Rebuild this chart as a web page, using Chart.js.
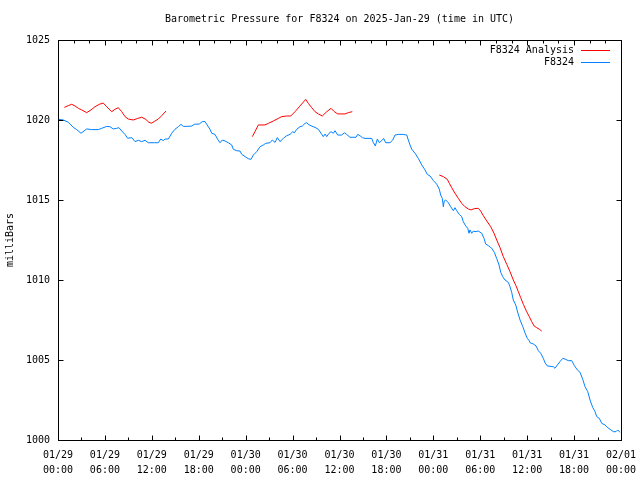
<!DOCTYPE html>
<html>
<head>
<meta charset="utf-8">
<script src="https://cdn.jsdelivr.net/npm/chart.js@4/dist/chart.umd.min.js"></script>
<style>
  body { margin: 0; background: #fff; }
  canvas { display: block; }
</style>
</head>
<body>
<canvas id="pressChart" width="640" height="480"></canvas>
<script>
// hours since 01/29 00:00 UTC
var tickDays = ['01/29', '01/30', '01/31', '02/01'];
var tickTimes = ['00:00', '06:00', '12:00', '18:00'];

var blueHours = [0.0, 0.68, 1.32, 1.96, 2.39, 2.94, 3.67, 4.31, 5.15, 5.59, 6.23, 6.65, 7.07, 7.51, 7.8, 8.15, 8.57, 8.91, 9.43, 9.85,
    10.27, 10.71, 11.13, 11.55, 12.32, 12.83, 13.14, 13.47, 13.68, 14.11, 14.54, 14.96, 15.39, 15.73, 16.03, 16.46, 17.1, 17.43, 18.07, 18.45,
    18.8, 19.02, 19.44, 19.66, 20.08, 20.42, 20.72, 21.01, 21.36, 21.78, 22.22, 22.42, 22.85, 23.28, 23.49, 23.92, 24.34, 24.68, 24.98, 25.41,
    25.83, 26.26, 26.56, 27.11, 27.41, 27.75, 28.05, 28.39, 28.81, 29.25, 29.67, 30.02, 30.22, 30.53, 30.95, 31.24, 31.59, 31.81, 32.1, 32.45,
    32.87, 33.29, 33.73, 33.93, 34.15, 34.37, 34.66, 34.92, 35.21, 35.43, 35.77, 36.28, 36.62, 36.92, 37.34, 38.11, 38.33, 38.62, 38.92, 39.26,
    40.12, 40.32, 40.58, 40.84, 41.09, 41.4, 41.65, 41.91, 42.46, 42.81, 43.1, 43.52, 44.16, 44.6, 44.8, 45.02, 45.24, 45.66, 46.08, 46.52,
    46.94, 47.23, 47.58, 48.0, 48.43, 48.76, 48.94, 49.15, 49.28, 49.4, 49.58, 49.92, 50.22, 50.56, 50.77, 50.99, 51.32, 51.63, 51.83, 52.14,
    52.4, 52.56, 52.69, 52.91, 53.11, 53.33, 53.75, 54.19, 54.48, 54.7, 55.03, 55.47, 55.8, 56.1, 56.4, 56.62, 56.87, 57.17, 57.59, 57.81,
    58.03, 58.23, 58.54, 58.74, 59.09, 59.43, 59.72, 60.02, 60.27, 60.37, 60.79, 61.13, 61.43, 61.73, 62.07, 62.28, 62.58, 63.35, 63.56, 63.86,
    64.2, 64.55, 64.84, 65.26, 65.7, 66.03, 66.42, 66.76, 67.11, 67.4, 67.75, 68.04, 68.38, 68.68, 68.9, 69.23, 69.54, 69.96, 70.25, 70.6,
    71.02, 71.36, 71.58, 71.87];
var bluePressure = [1020.05, 1020.0, 1019.86, 1019.54, 1019.4, 1019.17, 1019.44, 1019.4, 1019.4, 1019.48, 1019.6, 1019.58, 1019.44, 1019.48, 1019.52, 1019.31, 1019.1, 1018.86, 1018.9, 1018.65,
    1018.73, 1018.65, 1018.73, 1018.58, 1018.58, 1018.58, 1018.81, 1018.71, 1018.81, 1018.81, 1019.17, 1019.42, 1019.58, 1019.73, 1019.6, 1019.6, 1019.62, 1019.73, 1019.75, 1019.9,
    1019.9, 1019.73, 1019.42, 1019.17, 1019.1, 1018.79, 1018.58, 1018.75, 1018.69, 1018.58, 1018.44, 1018.17, 1018.08, 1018.06, 1017.86, 1017.71, 1017.58, 1017.54, 1017.81, 1018.02,
    1018.33, 1018.44, 1018.54, 1018.58, 1018.75, 1018.6, 1018.9, 1018.65, 1018.85, 1019.02, 1019.1, 1019.27, 1019.2, 1019.42, 1019.58, 1019.62, 1019.79, 1019.83, 1019.7, 1019.62,
    1019.54, 1019.42, 1019.1, 1018.96, 1019.12, 1018.96, 1019.17, 1019.27, 1019.17, 1019.33, 1019.06, 1019.06, 1019.2, 1019.1, 1018.92, 1018.92, 1019.1, 1019.02, 1018.9, 1018.85,
    1018.85, 1018.6, 1018.38, 1018.81, 1018.58, 1018.71, 1018.85, 1018.58, 1018.58, 1018.75, 1019.06, 1019.1, 1019.1, 1019.06, 1018.75, 1018.44, 1018.17, 1017.92, 1017.6, 1017.19,
    1016.88, 1016.6, 1016.5, 1016.22, 1015.99, 1015.68, 1015.31, 1015.1, 1014.58, 1014.94, 1015.0, 1014.83, 1014.58, 1014.33, 1014.52, 1014.33, 1014.1, 1013.96, 1013.64, 1013.38,
    1013.23, 1012.92, 1013.13, 1012.92, 1013.06, 1013.02, 1013.06, 1012.92, 1012.6, 1012.25, 1012.15, 1011.98, 1011.73, 1011.35, 1010.94, 1010.48, 1010.21, 1010.0, 1009.85, 1009.58,
    1009.21, 1008.75, 1008.44, 1008.06, 1007.5, 1007.1, 1006.7, 1006.35, 1006.2, 1006.08, 1006.0, 1005.88, 1005.58, 1005.42, 1005.1, 1004.83, 1004.63, 1004.58, 1004.48, 1004.69,
    1004.9, 1005.1, 1005.06, 1004.96, 1004.96, 1004.65, 1004.38, 1004.23, 1003.79, 1003.33, 1003.02, 1002.5, 1002.04, 1001.77, 1001.46, 1001.35, 1001.04, 1000.94, 1000.79, 1000.67,
    1000.52, 1000.52, 1000.63, 1000.48];

// analysis has gaps (null)
var redHours = [0.81, 1.32, 1.75, 2.17, 2.6, 3.03, 3.67, 4.22, 4.73, 5.28, 5.79, 6.23, 6.87, 7.29, 7.71, 8.15, 8.57, 8.99, 9.63, 10.19,
    10.71, 11.22, 11.64, 11.98, 12.41, 12.83, 13.26, 13.81, 18.0,
    24.85, 25.19, 25.62, 26.47, 26.9, 27.54, 28.17, 28.61, 29.25, 29.76, 30.31, 30.86, 31.68, 32.01, 32.45, 32.87, 33.29, 33.8, 34.37, 34.92,
    35.34, 35.77, 36.71, 37.13, 37.64, 44.0,
    48.76, 49.28, 49.79, 50.05, 50.35, 50.77, 51.2, 51.63, 52.05, 52.47, 52.82, 53.24, 53.75, 54.06, 54.39, 54.83, 55.34, 55.76, 56.11, 56.53,
    56.95, 57.39, 57.81, 58.23, 58.57, 58.87, 59.17, 59.51, 59.94, 60.27, 60.58, 60.88, 61.22, 61.56, 61.86];
var redPressure = [1020.79, 1020.9, 1020.98, 1020.88, 1020.73, 1020.63, 1020.46, 1020.63, 1020.83, 1020.98, 1021.06, 1020.83, 1020.52, 1020.67, 1020.77, 1020.52, 1020.21, 1020.06, 1020.0, 1020.1,
    1020.17, 1020.04, 1019.85, 1019.8, 1019.94, 1020.06, 1020.27, 1020.56, null,
    1018.96, 1019.27, 1019.69, 1019.69, 1019.79, 1019.94, 1020.1, 1020.21, 1020.25, 1020.25, 1020.52, 1020.83, 1021.29, 1021.04, 1020.77, 1020.52, 1020.38, 1020.25, 1020.52, 1020.73,
    1020.52, 1020.38, 1020.38, 1020.46, 1020.52, null,
    1016.56, 1016.46, 1016.29, 1016.04, 1015.77, 1015.42, 1015.1, 1014.79, 1014.58, 1014.44, 1014.38, 1014.46, 1014.48, 1014.31, 1014.02, 1013.69, 1013.33, 1012.92, 1012.5, 1012.02,
    1011.46, 1010.98, 1010.52, 1010.0, 1009.64, 1009.27, 1008.9, 1008.48, 1008.02, 1007.71, 1007.4, 1007.13, 1007.02, 1006.92, 1006.81];

var FONT = "'DejaVu Sans Mono', 'Liberation Mono', monospace";

function toPoints(xs, ys) {
    return xs.map(function (h, i) { return { x: h, y: ys[i] }; });
}

// gnuplot style frame, inward ticks, title and legend
var gnuFrame = {
    id: 'gnuFrame',
    afterDatasetsDraw: function (chart) {
        var ctx = chart.ctx, a = chart.chartArea;
        var xs = chart.scales.x, ys = chart.scales.y;
        var L = Math.round(a.left) + 0.5, R = Math.round(a.right) + 0.5;
        var T = Math.round(a.top) + 0.5, B = Math.round(a.bottom) + 0.5;
        ctx.save();
        ctx.strokeStyle = '#000';
        ctx.lineWidth = 1;
        ctx.strokeRect(L, T, R - L, B - T);
        ctx.beginPath();
        for (var h = 0; h <= 72; h += 3) {
            var px = Math.round(xs.getPixelForValue(h)) + 0.5;
            var len = h % 6 === 0 ? 5 : 3;
            ctx.moveTo(px, B); ctx.lineTo(px, B - len);
        }
        for (var h2 = 0; h2 <= 72; h2 += 2) {
            var px2 = Math.round(xs.getPixelForValue(h2)) + 0.5;
            var len2 = h2 % 6 === 0 ? 5 : 3;
            ctx.moveTo(px2, T); ctx.lineTo(px2, T + len2);
        }
        for (var v = 1000; v <= 1025; v += 5) {
            var py = Math.round(ys.getPixelForValue(v)) + 0.5;
            ctx.moveTo(L, py); ctx.lineTo(L + 5, py);
            ctx.moveTo(R, py); ctx.lineTo(R - 5, py);
        }
        ctx.stroke();

        ctx.fillStyle = '#000';
        ctx.font = '10px ' + FONT;
        ctx.textAlign = 'center';
        ctx.textBaseline = 'middle';
        ctx.fillText('Barometric Pressure for F8324 on 2025-Jan-29 (time in UTC)', (a.left + a.right) / 2, 19);

        ctx.textAlign = 'right';
        chart.data.datasets.forEach(function (ds, i) {
            var ly = 50 + i * 12;
            ctx.fillStyle = '#000';
            ctx.fillText(ds.label, 574, ly);
            ctx.strokeStyle = ds.borderColor;
            ctx.beginPath();
            ctx.moveTo(581, ly + 0.5);
            ctx.lineTo(610, ly + 0.5);
            ctx.stroke();
        });
        ctx.restore();
    }
};

var chart = new Chart(document.getElementById('pressChart'), {
    type: 'line',
    data: {
        datasets: [{
            label: 'F8324 Analysis',
            data: toPoints(redHours, redPressure),
            borderColor: '#ff0000',
            borderWidth: 1,
            pointRadius: 0,
            spanGaps: false
        }, {
            label: 'F8324',
            data: toPoints(blueHours, bluePressure),
            borderColor: '#0080ff',
            borderWidth: 1,
            pointRadius: 0
        }]
    },
    options: {
        responsive: false,
        animation: false,
        devicePixelRatio: 1,
        layout: { padding: { top: 40, right: 19, left: 0, bottom: 0 } },
        plugins: {
            legend: { display: false },
            title: { display: false },
            tooltip: { enabled: false }
        },
        scales: {
            x: {
                type: 'linear',
                min: 0,
                max: 72,
                grid: { display: false },
                border: { display: false },
                ticks: {
                    stepSize: 6,
                    autoSkip: false,
                    maxRotation: 0,
                    padding: 0,
                    color: '#000',
                    font: { family: FONT, size: 10, lineHeight: 1.5 },
                    callback: function (v) {
                        return [tickDays[Math.floor(v / 24)], tickTimes[(v % 24) / 6]];
                    }
                },
                afterFit: function (s) {
                    s.height = 40;
                    s.paddingLeft = 0;
                    s.paddingRight = 0;
                }
            },
            y: {
                min: 1000,
                max: 1025,
                grid: { display: false },
                border: { display: false },
                ticks: {
                    stepSize: 5,
                    padding: 0,
                    color: '#000',
                    font: { family: FONT, size: 10 },
                    callback: function (v) { return String(v); }
                },
                title: {
                    display: true,
                    text: 'milliBars',
                    color: '#000',
                    font: { family: FONT, size: 10 },
                    padding: { top: 4, bottom: 4 }
                },
                afterFit: function (s) {
                    s.width = 58;
                    s.paddingTop = 0;
                    s.paddingBottom = 0;
                }
            }
        }
    },
    plugins: [gnuFrame]
});
</script>
</body>
</html>
